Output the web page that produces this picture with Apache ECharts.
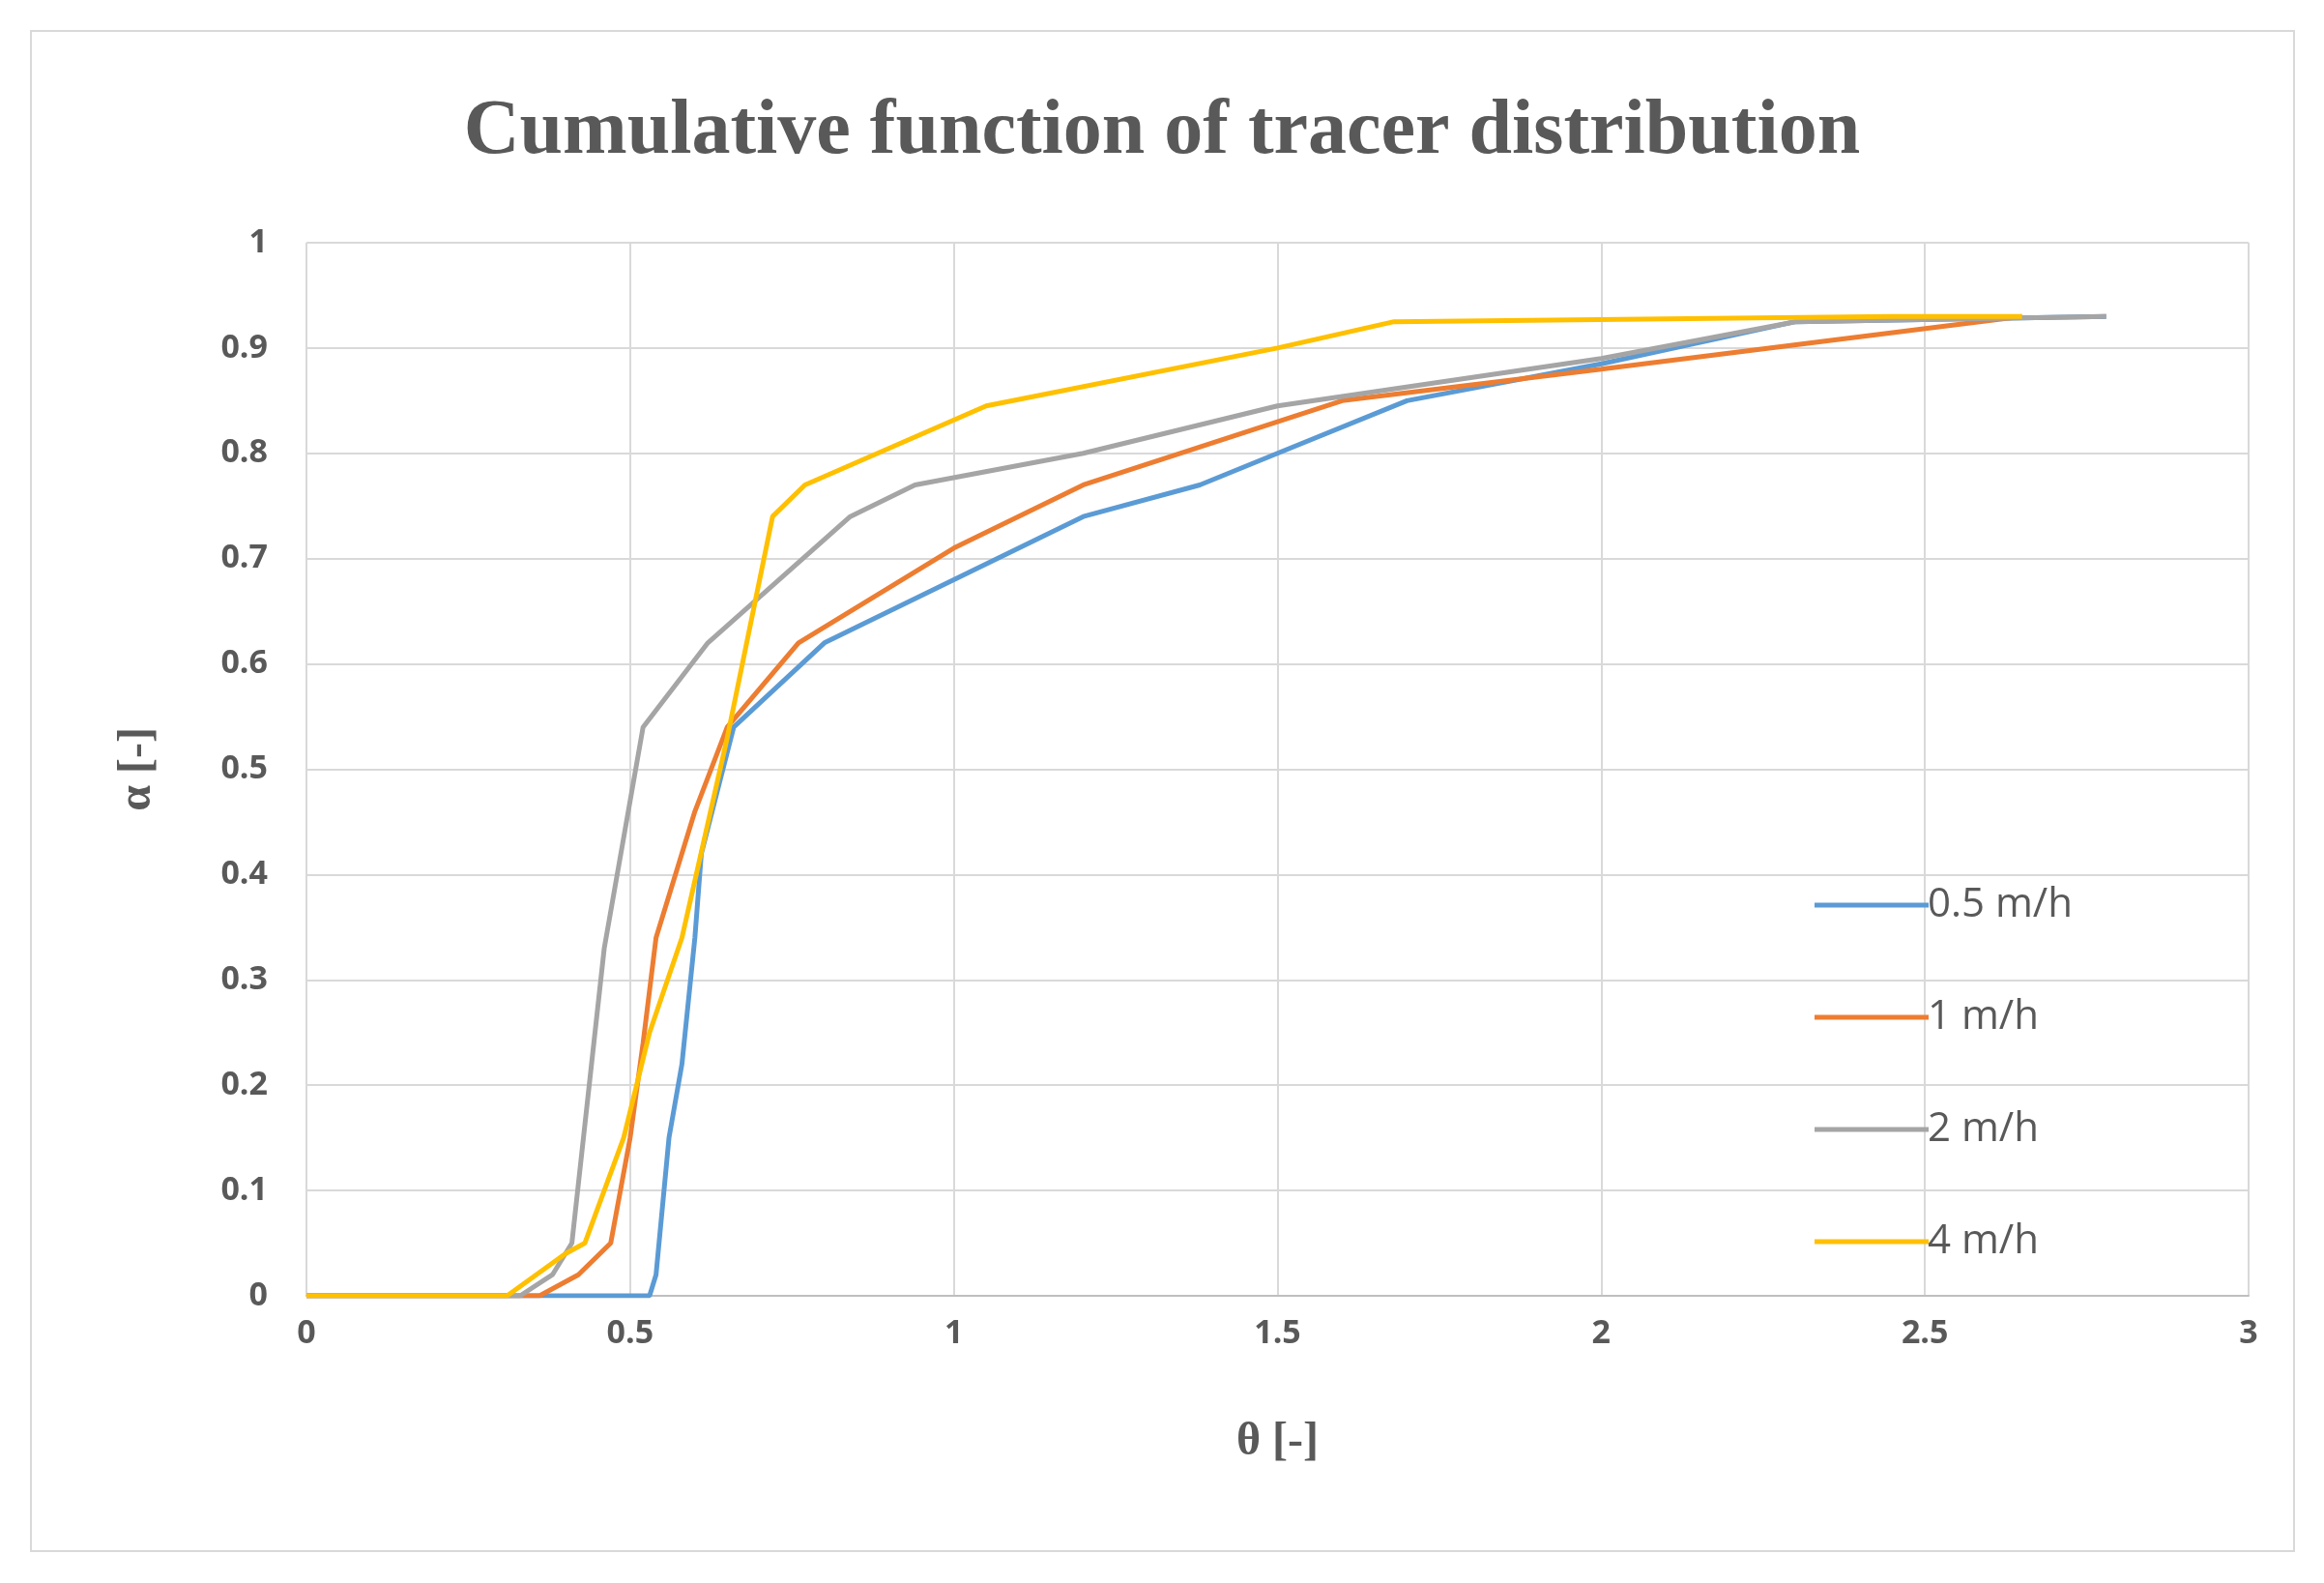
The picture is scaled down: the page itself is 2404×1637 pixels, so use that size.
<!DOCTYPE html>
<html><head><meta charset="utf-8">
<script src="https://cdn.jsdelivr.net/npm/echarts@6/dist/echarts.min.js"></script>
<style>html,body{margin:0;background:#fff}#c{width:2404px;height:1637px}
#f{position:absolute;left:31px;top:31px;width:2343px;height:1574px;border:2px solid #d9d9d9;box-sizing:border-box}</style>
</head><body><div id="f"></div><div id="c" style="position:absolute;left:0;top:0"></div>
<script>
const seriesNames = ['0.5 m/h','1 m/h','2 m/h','4 m/h'];
const colors = ['#5b9bd5','#ed7d31','#a5a5a5','#ffc000'];
const s05 = [[0,0],[0.53,0],[0.54,0.02],[0.56,0.15],[0.58,0.22],[0.6,0.34],[0.61,0.42],[0.66,0.54],[0.8,0.62],[1.0,0.68],[1.2,0.74],[1.38,0.77],[1.5,0.80],[1.7,0.85],[2.0,0.885],[2.3,0.925],[2.78,0.93]];
const s1 = [[0,0],[0.36,0],[0.42,0.02],[0.47,0.05],[0.5,0.15],[0.52,0.24],[0.54,0.34],[0.6,0.46],[0.65,0.54],[0.76,0.62],[1.0,0.71],[1.2,0.77],[1.4,0.81],[1.6,0.85],[2.0,0.88],[2.65,0.93]];
const s2 = [[0,0],[0.33,0],[0.38,0.02],[0.41,0.05],[0.46,0.33],[0.52,0.54],[0.62,0.62],[0.84,0.74],[0.94,0.77],[1.2,0.80],[1.5,0.845],[2.0,0.89],[2.3,0.925],[2.78,0.93]];
const s4 = [[0,0],[0.31,0],[0.4,0.04],[0.43,0.05],[0.49,0.15],[0.53,0.25],[0.58,0.34],[0.65,0.53],[0.72,0.74],[0.77,0.77],[1.05,0.845],[1.5,0.9],[1.68,0.925],[2.45,0.93],[2.65,0.93]];
const allData = [s05,s1,s2,s4];
const chart = echarts.init(document.getElementById('c'));
chart.setOption({
  animation:false,
  title:{text:'Cumulative function of tracer distribution',left:'center',top:92,
    textStyle:{fontFamily:'Liberation Serif',fontWeight:'bold',fontSize:80,color:'#595959'}},
  grid:{left:317,right:78,top:251,bottom:297},
  legend:{orient:'vertical',left:1872,top:910,itemWidth:118,itemHeight:5,itemGap:74,
    icon:'rect',textStyle:{fontFamily:'Open Sans',fontSize:42,color:'#595959',padding:[0,0,0,-6]},data:seriesNames},
  xAxis:{type:'value',min:0,max:3,interval:0.5,name:'θ [-]',nameLocation:'middle',nameGap:128,
    nameTextStyle:{fontFamily:'Liberation Serif',fontSize:48,fontWeight:'bold',color:'#595959'},
    axisLine:{lineStyle:{color:'#bfbfbf',width:2}},axisTick:{show:false},
    axisLabel:{fontFamily:'Open Sans',fontWeight:'bold',fontSize:34,color:'#595959',margin:22},
    splitLine:{lineStyle:{color:'#d9d9d9',width:2}}},
  yAxis:{type:'value',min:0,max:1,interval:0.1,name:'α [-]',nameLocation:'middle',nameGap:150,
    nameTextStyle:{fontFamily:'Liberation Serif',fontSize:48,fontWeight:'bold',color:'#595959'},
    axisLine:{show:false},axisTick:{show:false},
    axisLabel:{fontFamily:'Open Sans',fontWeight:'bold',fontSize:34,color:'#595959',margin:40,
      formatter:v=>String(Math.round(v*10)/10)},
    splitLine:{lineStyle:{color:'#d9d9d9',width:2}}},
  series: allData.map((d,i)=>({name:seriesNames[i],type:'line',data:d,showSymbol:false,
    lineStyle:{color:colors[i],width:5},itemStyle:{color:colors[i]}}))
});
</script></body></html>
